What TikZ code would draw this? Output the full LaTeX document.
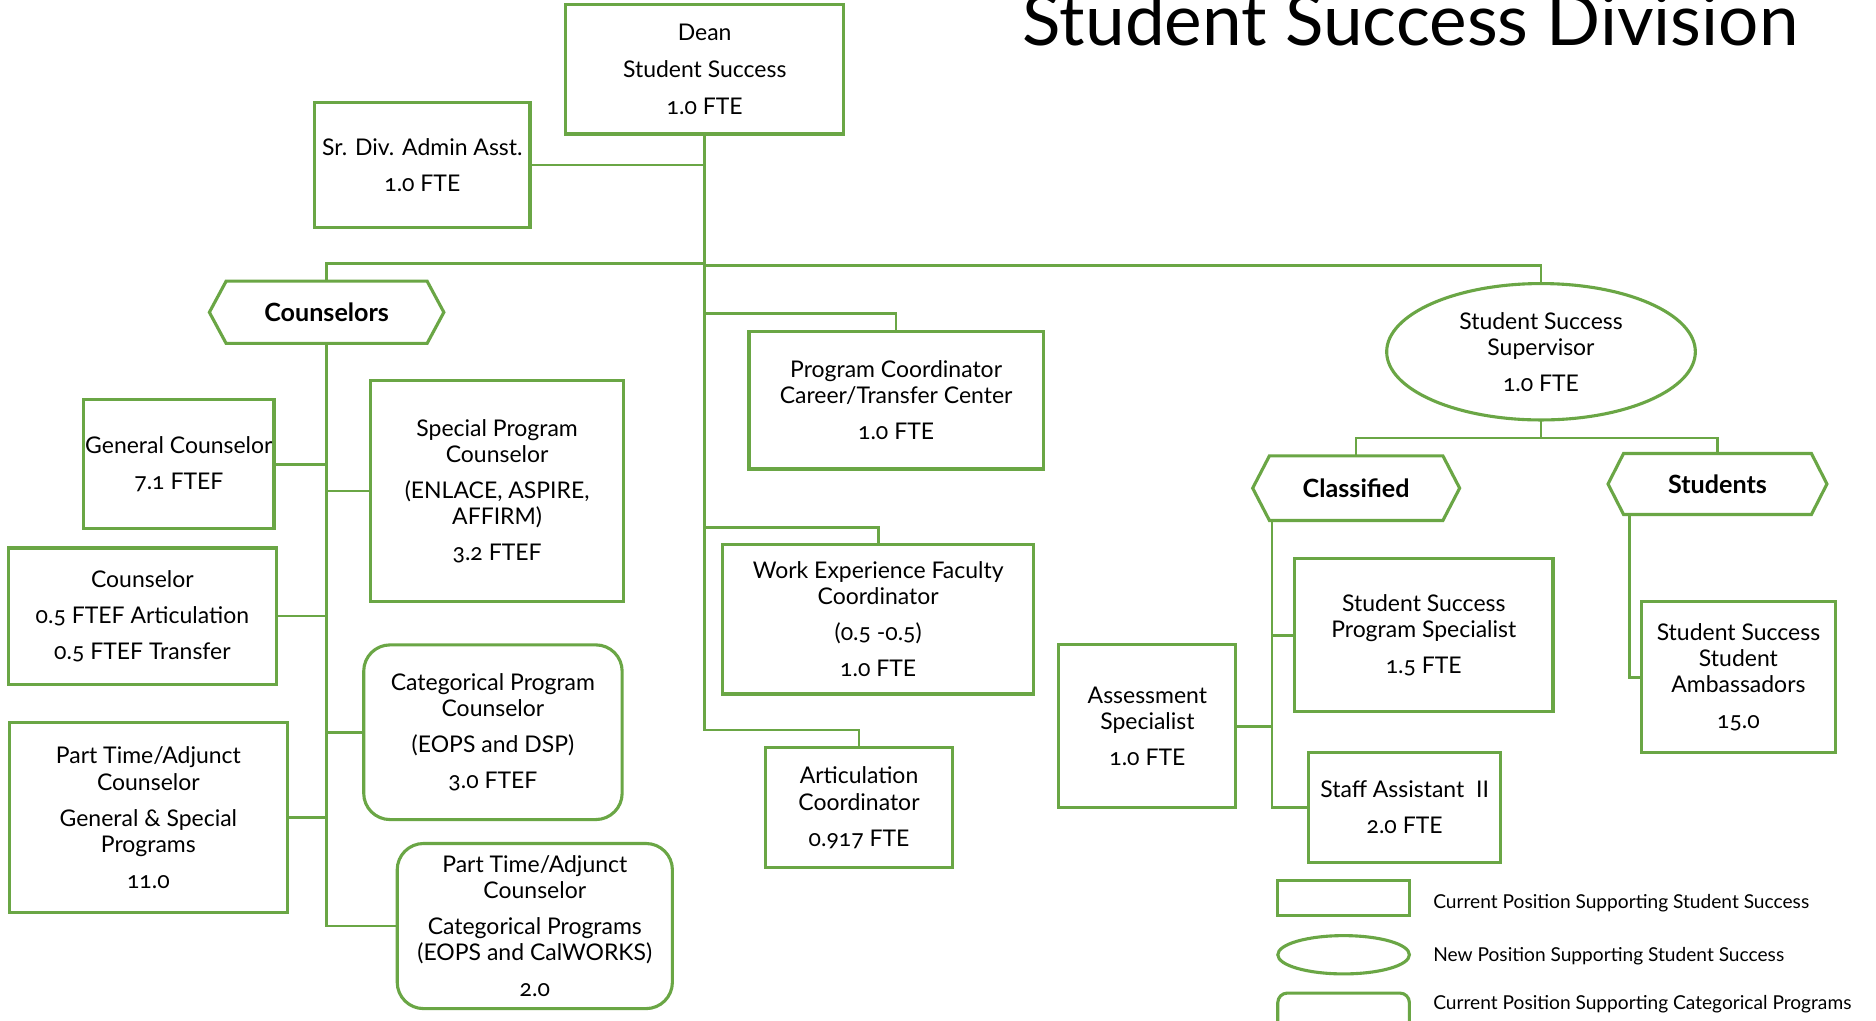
\documentclass[tikz,border=0pt]{standalone}
\usepackage{fontspec}
\setmainfont{Lato}[Numbers=OldStyle]
\usetikzlibrary{calc,shapes.geometric}
\definecolor{gr}{HTML}{6AA645}
\begin{document}
\begin{tikzpicture}[x=0.5pt,y=-0.5pt,
  every node/.style={inner sep=0pt, outer sep=0pt, align=center, font=\fontsize{9.6}{11}\selectfont},
  rect/.style n args={4}{minimum width={(#3-#1)*0.5pt}, minimum height={(#4-#2)*0.5pt}, at={({(#1+#3)/2},{(#2+#4)/2})}},
  box/.style={draw=gr, line width=1.3pt},
  rbox/.style={draw=gr, line width=1.3pt, rounded corners=11pt},
  conn/.style={draw=gr, line width=1.1pt},
  hexlbl/.style={font=\fontsize{10.5}{12}\selectfont\bfseries},
  legtxt/.style={anchor=west, font=\fontsize{8}{9}\selectfont}]
\useasboundingbox (0,0) rectangle (1568,853);
\fill[white] (0,0) rectangle (1568,853);

% title
\node[anchor=base west, font=\fontsize{29.7}{30}\selectfont] (title) at (855,38) {Student Success Division};

% top
\node[box, rect={473}{4}{705}{112}] (dean) {Dean\\[4.3pt]Student Success\\[4.3pt]1.0 FTE};
\node[box, rect={263}{86}{443}{190}] (sr) {Sr. Div. Admin Asst.\\[4.3pt]1.0 FTE};

% counselors
\node[hexlbl, rect={175}{235}{371}{287}] (couns) {Counselors};
\node[box, rect={70}{334}{229}{442}] (gen) {General Counselor\\[4pt]7.1 FTEF};
\node[box, rect={310}{318}{521}{503}] (spc) {Special Program\\Counselor\\[4pt](ENLACE, ASPIRE,\\AFFIRM)\\[4pt]3.2 FTEF};
\node[box, rect={7}{458}{231}{572}] (cou) {Counselor\\[4pt]0.5 FTEF Articulation\\[4pt]0.5 FTEF Transfer};
\node[rbox, rect={304}{539}{520}{685}] (cat) {Categorical Program\\Counselor\\[4pt](EOPS and DSP)\\[4pt]3.0 FTEF};
\node[box, rect={8}{604}{240}{763}] (ptg) {Part Time/Adjunct\\Counselor\\[4pt]General \& Special\\Programs\\[4pt]11.0};
\node[rbox, rect={332}{705}{562}{843}] (ptc) {Part Time/Adjunct\\Counselor\\[4pt]Categorical Programs\\(EOPS and CalWORKS)\\[4pt]2.0};

% middle
\node[box, rect={626}{277}{872}{392}] (pc) {Program Coordinator\\Career/Transfer Center\\[4pt]1.0 FTE};
\node[box, rect={604}{455}{864}{580}] (we) {Work Experience Faculty\\Coordinator\\[4pt](0.5 -0.5)\\[4pt]1.0 FTE};
\node[box, rect={640}{625}{796}{725}] (art) {Articulation\\Coordinator\\[4pt]0.917 FTE};

% right
\node[draw=gr, line width=1.3pt, ellipse, minimum width=129pt, minimum height=57pt] (sup) at (1288,294) {Student Success\\Supervisor\\[4pt]1.0 FTE};
\node[hexlbl, rect={1047}{381}{1220}{435}] (cls) {Classified};
\node[hexlbl, rect={1344}{379}{1527}{430}] (std) {Students};
\node[box, rect={1082}{467}{1298}{595}] (ssps) {Student Success\\Program Specialist\\[4pt]1.5 FTE};
\node[box, rect={885}{539}{1033}{675}] (asm) {Assessment\\Specialist\\[4pt]1.0 FTE};
\node[box, rect={1094}{629}{1254}{721}] (sta) {Staff Assistant\ \ II\\[4pt]2.0 FTE};
\node[box, rect={1372}{503}{1534}{629}] (amb) {Student Success\\Student\\Ambassadors\\[4pt]15.0};

% legend
\node[box, rect={1068}{736}{1178}{765}] (lg1) {};
\node[draw=gr, line width=1.3pt, ellipse, minimum width=55pt, minimum height=16pt] (lg2) at (1123,798) {};
\node[rbox, rounded corners=4pt, rect={1068}{830}{1178}{866}] (lg3) {};
\node[legtxt] (lt1) at (1198,755) {Current Position Supporting Student Success};
\node[legtxt] (lt2) at (1198,799) {New Position Supporting Student Success};
\node[legtxt] (lt3) at (1198,839) {Current Position Supporting Categorical Programs};

% hexagon outlines
\foreach \n/\d in {couns/14, cls/14, std/13}
  \draw[box] ($(\n.north west)+(\d,0)$) -- ($(\n.north east)+(-\d,0)$) -- (\n.east)
    -- ($(\n.south east)+(-\d,0)$) -- ($(\n.south west)+(\d,0)$) -- (\n.west) -- cycle;

% connectors
\coordinate (j0) at (589,220);
\coordinate (j0r) at (589,222);
\coordinate (j1) at (589,262);
\coordinate (j2) at (589,441);
\coordinate (j3) at (589,610);
\draw[conn] (dean.south) -- (j3) -| (art.north);
\draw[conn] (sr.east) -- (sr.east -| dean.south);
\draw[conn] (j0) -| (couns.north);
\draw[conn] (j0r) -| (sup.north);
\draw[conn] (j1) -| (pc.north);
\draw[conn] (j2) -| (we.north);

\draw[conn] (couns.south) |- (ptc.west);
\draw[conn] (gen.east) -- (gen.east -| couns.south);
\draw[conn] (spc.west) -- (spc.west -| couns.south);
\draw[conn] (cou.east) -- (cou.east -| couns.south);
\draw[conn] (cat.west) -- (cat.west -| couns.south);
\draw[conn] (ptg.east) -- (ptg.east -| couns.south);

\coordinate (js) at (1288,366);
\draw[conn] (sup.south) -- (js);
\draw[conn] (cls.north) |- (js) -| (std.north);

\coordinate (ct) at ($(cls.south west)+(16,0)$);
\draw[conn] (ct) |- (sta.west);
\draw[conn] (ssps.west) -- (ssps.west -| ct);
\draw[conn] (asm.east) -- (asm.east -| ct);

\coordinate (st) at ($(std.south west)+(18,0)$);
\draw[conn] (st) |- (amb.west);
\end{tikzpicture}
\end{document}
